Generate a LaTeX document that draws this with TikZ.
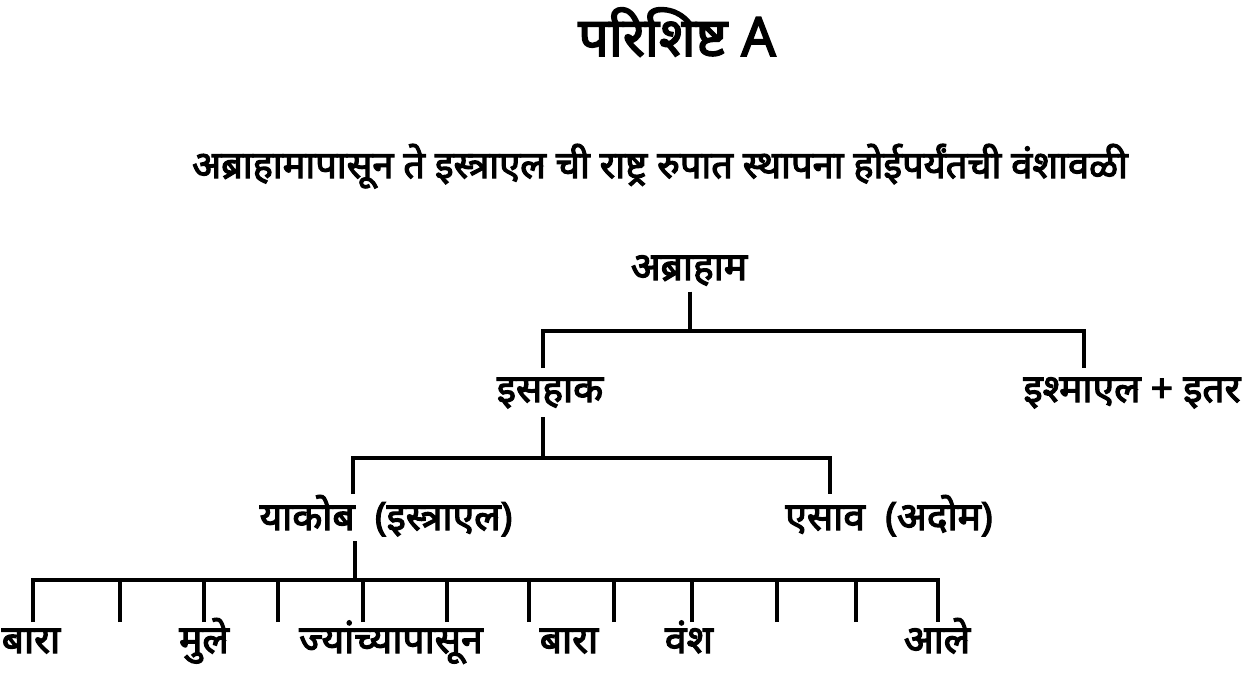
\documentclass[tikz,border=0pt]{standalone}
\usepackage{fontspec}
\setmainfont[Script=Devanagari]{Noto Sans}
\newfontfamily\heavyfont[Script=Devanagari, FakeBold=3]{Noto Sans}
\tikzstyle{heading}=[font=\heavyfont\fontsize{54}{54}\selectfont,
                     inner sep=0pt,
                     anchor=base, ]
\tikzstyle{subheading}=[font=\heavyfont\fontsize{38}{38}\selectfont,
                        inner sep=0pt,
                        anchor=base, ]
\tikzstyle{member}=[font=\heavyfont\fontsize{39}{39}\selectfont,
                    inner sep=0pt,
                    anchor=base, ]
\tikzstyle{branch}=[line width=3.4pt,
                    line join=miter, ]

\begin{document}
\begin{tikzpicture}[x=1pt, y=-1pt]
  \useasboundingbox (0, 0) rectangle (1247, 681);

  % Headings
  % -------------------------------------------------------------
  \node at (677, 56) (title) [heading] {परिशिष्ट A};
  \node at (660, 178) (subtitle) [subheading] {अब्राहामापासून ते इस्त्राएल ची राष्ट्र रुपात स्थापना होईपर्यंतची वंशावळी};

  % Generations
  % -------------------------------------------------------------
  \node at (689, 280) (abraham) [member] {अब्राहाम};
  \node at (550, 402) (isaac) [member] {इसहाक};
  \node at (1132, 402) (ishmael) [member] {इश्माएल + इतर};
  \node at (386, 530) (jacob) [member] {याकोब \ (इस्त्राएल)};
  \node at (889, 530) (esau) [member] {एसाव \ (अदोम)};

  \coordinate (abraham_bar) at (690, 331);
  \coordinate (isaac_top) at (543, 368);
  \coordinate (ishmael_top) at (1084, 368);
  \draw[branch] (abraham_bar |- abraham.south) ++(0, 6) -- (abraham_bar);
  \draw[branch] (isaac_top) |- (abraham_bar) -| (ishmael_top);

  \coordinate (isaac_bar) at (543, 458);
  \coordinate (jacob_top) at (353, 494);
  \coordinate (esau_top) at (830, 494);
  \draw[branch] (isaac_bar |- isaac.south) ++(0, 9) -- (isaac_bar);
  \draw[branch] (jacob_top) |- (isaac_bar) -| (esau_top);

  % Twelve sons
  % -------------------------------------------------------------
  \coordinate (jacob_bar) at (355, 580);
  \draw[branch] (jacob_bar |- jacob.south) ++(0, 5) -- (jacob_bar);
  \foreach \i/\x in {1/33, 2/120, 3/204, 4/278, 5/363, 6/447, 7/529, 8/614, 9/692, 10/777, 11/856, 12/938} {
      \coordinate (son_\i) at (\x, 622);
    }
  \draw[branch] (son_1) |- (jacob_bar) -| (son_12);
  \foreach \i in {2, ..., 11} {
      \draw[branch] (son_\i) -- (son_\i |- jacob_bar);
    }

  \foreach \n/\x/\t in {0/31/बारा, 1/204/मुले, 2/391/ज्यांच्यापासून, 3/569/बारा, 4/689/वंश, 5/937/आले} {
      \node at (\x, 653) (word_\n) [member] {\t};
    }
\end{tikzpicture}
\end{document}
